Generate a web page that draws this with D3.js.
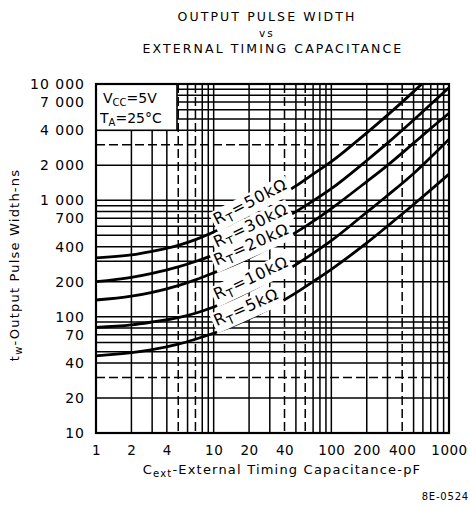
<!DOCTYPE html>
<html>
<head>
<meta charset="utf-8">
<script src="https://cdn.jsdelivr.net/npm/d3@7"></script>
<style>
  body { margin: 0; background: #fff; }
  text { font-family: "DejaVu Sans", sans-serif; fill: #000; }
</style>
</head>
<body>
<svg width="470" height="506"></svg>
<script>
// Cext in pF, pulse width in ns
var capacitance = [1, 2, 3, 5, 7, 10, 20, 30, 50, 70, 100, 200, 300, 500, 700, 1000];
var rt50k = [320, 340, 365, 410, 460, 535, 760, 960, 1330, 1680, 2150, 3800, 5400, 8600, 11800, 16500];
var rt30k = [200, 218, 236, 268, 298, 340, 470, 590, 800, 990, 1260, 2200, 3100, 4900, 6700, 9300];
var rt20k = [139, 150, 162, 185, 207, 238, 320, 395, 530, 660, 850, 1450, 2000, 3100, 4150, 5600];
var rt10k = [81, 85, 90, 98, 107, 121, 165, 205, 280, 350, 450, 790, 1100, 1700, 2350, 3350];
var rt5k  = [46, 49, 52, 58, 64, 72, 96, 118, 160, 200, 255, 430, 600, 920, 1230, 1680];
var seriesNames = ["50k", "30k", "20k", "10k", "5k"];

var xTicks = [1, 2, 4, 10, 20, 40, 100, 200, 400, 1000];
var yTicks = [10, 20, 40, 70, 100, 200, 400, 700, 1000, 2000, 4000, 7000, 10000];
var xDashed = [5, 7, 40, 60, 400];
var yDashed = [30, 3000];

var svg = d3.select("svg"),
    margin = {top: 84, right: 21, bottom: 73, left: 96},
    width = svg.attr("width") - margin.left - margin.right,
    height = svg.attr("height") - margin.top - margin.bottom,
    g = svg.append("g").attr("transform", "translate(" + margin.left + "," + margin.top + ")");

var x = d3.scaleLog().domain([1, 1000]).range([0, width]),
    y = d3.scaleLog().domain([10, 10000]).range([height, 0]);

// title
var title = svg.append("g").attr("class", "title")
    .style("font-size", "12.5px").style("letter-spacing", "2.1px").attr("text-anchor", "middle");
title.append("text").attr("x", 267).attr("y", 21).text("OUTPUT PULSE WIDTH");
title.append("text").attr("x", 267).attr("y", 37).style("font-size", "10.5px").text("vs");
title.append("text").attr("x", 273).attr("y", 53).text("EXTERNAL TIMING CAPACITANCE");

// log grid
var gridX = [], gridY = [];
[1, 10, 100].forEach(function(dec) {
  for (var k = 1; k <= 9; k++) gridX.push(dec * k);
});
[10, 100, 1000].forEach(function(dec) {
  for (var k = 1; k <= 9; k++) gridY.push(dec * k);
});

g.selectAll(".vgrid")
    .data(gridX.filter(function(d) { return d > 1; }))
    .enter().append("line")
    .attr("class", "vgrid")
    .attr("x1", function(d) { return x(d); })
    .attr("x2", function(d) { return x(d); })
    .attr("y1", 0).attr("y2", height)
    .attr("stroke", "#000").attr("stroke-width", 1.5)
    .attr("stroke-dasharray", function(d) { return xDashed.indexOf(d) >= 0 ? "9,4" : null; });

g.selectAll(".hgrid")
    .data(gridY.filter(function(d) { return d > 10; }))
    .enter().append("line")
    .attr("class", "hgrid")
    .attr("y1", function(d) { return y(d); })
    .attr("y2", function(d) { return y(d); })
    .attr("x1", 0).attr("x2", width)
    .attr("stroke", "#000").attr("stroke-width", 1.5)
    .attr("stroke-dasharray", function(d) { return yDashed.indexOf(d) >= 0 ? "9,4" : null; });

// conditions box in the top left corner
var box = g.append("g");
box.append("rect")
    .attr("x", 0).attr("y", 0)
    .attr("width", 81).attr("height", y(4000))
    .attr("fill", "#fff").attr("stroke", "#000").attr("stroke-width", 1.6);
var t1 = box.append("text").attr("x", 7).attr("y", 19).style("font-size", "14px");
t1.append("tspan").text("V");
t1.append("tspan").attr("dy", 3).style("font-size", "10px").text("CC");
t1.append("tspan").attr("dy", -3).text("=5V");
var t2 = box.append("text").attr("x", 4).attr("y", 39).style("font-size", "14px");
t2.append("tspan").text("T");
t2.append("tspan").attr("dy", 3).style("font-size", "10px").text("A");
t2.append("tspan").attr("dy", -3).text("=25°C");

// curves
var series = [rt50k, rt30k, rt20k, rt10k, rt5k].map(function(vals, i) {
  return {
    id: seriesNames[i],
    values: capacitance.map(function(c, j) { return {c: c, w: vals[j]}; })
  };
});

svg.append("clipPath").attr("id", "plotclip")
  .append("rect").attr("width", width).attr("height", height);

var line = d3.line()
    .curve(d3.curveMonotoneX)
    .x(function(d) { return x(d.c); })
    .y(function(d) { return y(d.w); });

var curves = g.append("g").attr("clip-path", "url(#plotclip)");
curves.selectAll(".curve")
    .data(series)
    .enter().append("path")
    .attr("class", "curve")
    .attr("d", function(d) { return line(d.values); })
    .attr("fill", "none")
    .attr("stroke", "#000")
    .attr("stroke-width", 2.8);

// curve labels, laid along the curve near 10 pF
var labels = g.selectAll(".rlabel")
    .data(series)
    .enter().append("g")
    .attr("class", "rlabel")
    .attr("transform", function(d) {
      var a = d.values[5], b = d.values[8];
      var ang = Math.atan2(y(b.w) - y(a.w), x(b.c) - x(a.c)) * 180 / Math.PI + 2;
      return "translate(" + (x(a.c) + 3) + "," + (y(a.w) - 7) + ") rotate(" + ang + ")";
    });

labels.each(function(d) {
  var lg = d3.select(this);
  var bg = lg.append("rect").attr("fill", "#fff");
  var t = lg.append("text").style("font-size", "16px").style("letter-spacing", "1px");
  t.append("tspan").text("R");
  t.append("tspan").attr("dy", 4).style("font-size", "12px").text("T");
  t.append("tspan").attr("dy", -4).text("=" + d.id + "Ω");
  var bb = t.node().getBBox();
  bg.attr("x", bb.x - 2).attr("y", bb.y + 1).attr("width", bb.width + 4).attr("height", bb.height - 1);
});

// frame
g.append("rect")
    .attr("width", width).attr("height", height)
    .attr("fill", "none").attr("stroke", "#000").attr("stroke-width", 2.2);

// axes
var yFmt = function(d) { return d >= 1000 ? d3.format(",")(d).replace(",", " ") : d; };

g.append("g")
    .attr("class", "axis axis--y")
    .call(d3.axisLeft(y).tickValues(yTicks).tickSize(0).tickPadding(11).tickFormat(yFmt))
    .call(function(a) { a.select(".domain").remove(); })
    .selectAll("text")
    .style("font-family", "DejaVu Sans, sans-serif")
    .style("font-size", "14px")
    .style("letter-spacing", "1px");

g.append("g")
    .attr("class", "axis axis--x")
    .attr("transform", "translate(0," + height + ")")
    .call(d3.axisBottom(x).tickValues(xTicks).tickSize(0).tickPadding(12).tickFormat(d3.format("d")))
    .call(function(a) { a.select(".domain").remove(); })
    .selectAll("text")
    .style("font-family", "DejaVu Sans, sans-serif")
    .style("font-size", "13.5px")
    .style("letter-spacing", "0.5px");

// axis titles
var xt = svg.append("text")
    .attr("x", 282).attr("y", 474)
    .attr("text-anchor", "middle")
    .style("font-size", "13px").style("letter-spacing", "1.2px");
xt.append("tspan").text("C");
xt.append("tspan").attr("dy", 3).style("font-size", "10px").text("ext");
xt.append("tspan").attr("dy", -3).text("-External Timing Capacitance-pF");

var yt = svg.append("text")
    .attr("transform", "translate(19,265) rotate(-90)")
    .attr("text-anchor", "middle")
    .style("font-size", "13px").style("letter-spacing", "1.2px");
yt.append("tspan").text("t");
yt.append("tspan").attr("dy", 3).style("font-size", "10px").text("w");
yt.append("tspan").attr("dy", -3).text("-Output Pulse Width-ns");

svg.append("text")
    .attr("x", 469).attr("y", 500)
    .attr("text-anchor", "end")
    .style("font-size", "10px").style("letter-spacing", "0.8px")
    .text("8E-0524");
</script>
</body>
</html>
